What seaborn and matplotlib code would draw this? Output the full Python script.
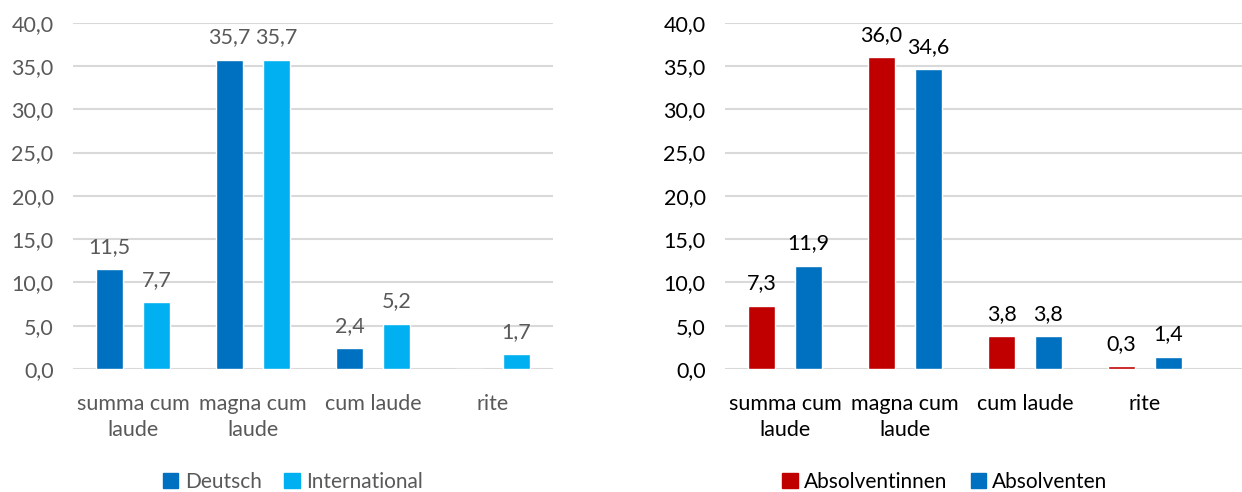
import matplotlib
matplotlib.use("Agg")
import matplotlib.pyplot as plt
from matplotlib.patches import Patch
import seaborn as sns
import pandas as pd
import numpy as np

# Daten
kategorien = ["summa cum\nlaude", "magna cum\nlaude", "cum laude", "rite"]
deutsch = [11.5, 35.7, 2.4, np.nan]
international = [7.7, 35.7, 5.2, 1.7]
absolventinnen = [7.3, 36.0, 3.8, 0.3]
absolventen = [11.9, 34.6, 3.8, 1.4]
yticks = [0, 5, 10, 15, 20, 25, 30, 35, 40]

sns.set_theme(style="white")
plt.rcParams['font.family'] = ['Lato', 'DejaVu Sans']

fig = plt.figure(figsize=(12.42, 4.92), dpi=100)
W, H = 1242, 492
ax1 = fig.add_axes([73 / W, 123 / H, 480 / W, 346.3 / H])
ax2 = fig.add_axes([725 / W, 123 / H, 517 / W, 346.3 / H])


def fmt(v):
    return f"{v:.1f}".replace(".", ",")


def panel(ax, s1, s2, n1, n2, c1, c2, txtcol, xmax, legx):
    df = pd.DataFrame({
        "kat": kategorien * 2,
        "wert": s1 + s2,
        "gruppe": [n1] * 4 + [n2] * 4,
    })
    df["wert"] = df["wert"].fillna(0)  # fehlender Wert -> kein Balken
    sns.barplot(data=df, x="kat", y="wert", hue="gruppe", ax=ax,
                palette=[c1, c2], width=0.78, gap=0.42, saturation=1,
                errorbar=None, legend=False)
    for cont, vals in zip(ax.containers, [s1, s2]):
        labs = ["" if np.isnan(v) else fmt(v) for v in vals]
        ax.bar_label(cont, labels=labs, padding=9, fontsize=15.5, color=txtcol)
    ax.set_ylim(0, 40)
    ax.set_xlim(-0.5, xmax)
    ax.set_yticks(yticks)
    ax.set_yticklabels([fmt(v) for v in yticks])
    ax.yaxis.grid(True, color="#D9D9D9", lw=1.5)
    ax.set_axisbelow(True)
    for s in ax.spines.values():
        s.set_visible(False)
    ax.tick_params(axis="both", length=0, labelsize=15.5, labelcolor=txtcol)
    ax.tick_params(axis="x", pad=18)
    ax.tick_params(axis="y", pad=14)
    for t in ax.get_xticklabels():
        t.set_linespacing(1.4)
    ax.set_xlabel("")
    ax.set_ylabel("")
    handles = [Patch(color=c1, label=n1), Patch(color=c2, label=n2)]
    leg = fig.legend(handles=handles, loc="center",
                     bbox_to_anchor=(legx / W, 10 / H), ncol=2, frameon=False,
                     fontsize=15, handlelength=0.75, handleheight=0.75,
                     handletextpad=0.3, columnspacing=1.1,
                     borderpad=0, borderaxespad=0)
    for t in leg.get_texts():
        t.set_color(txtcol)


panel(ax1, deutsch, international, "Deutsch", "International",
      "#0070C0", "#00B0F0", "#595959", 3.5, 293)
panel(ax2, absolventinnen, absolventen, "Absolventinnen", "Absolventen",
      "#C00000", "#0070C0", "#000000", 3.5 + 37 / 120, 945)

fig.savefig("out.png", dpi=100)
